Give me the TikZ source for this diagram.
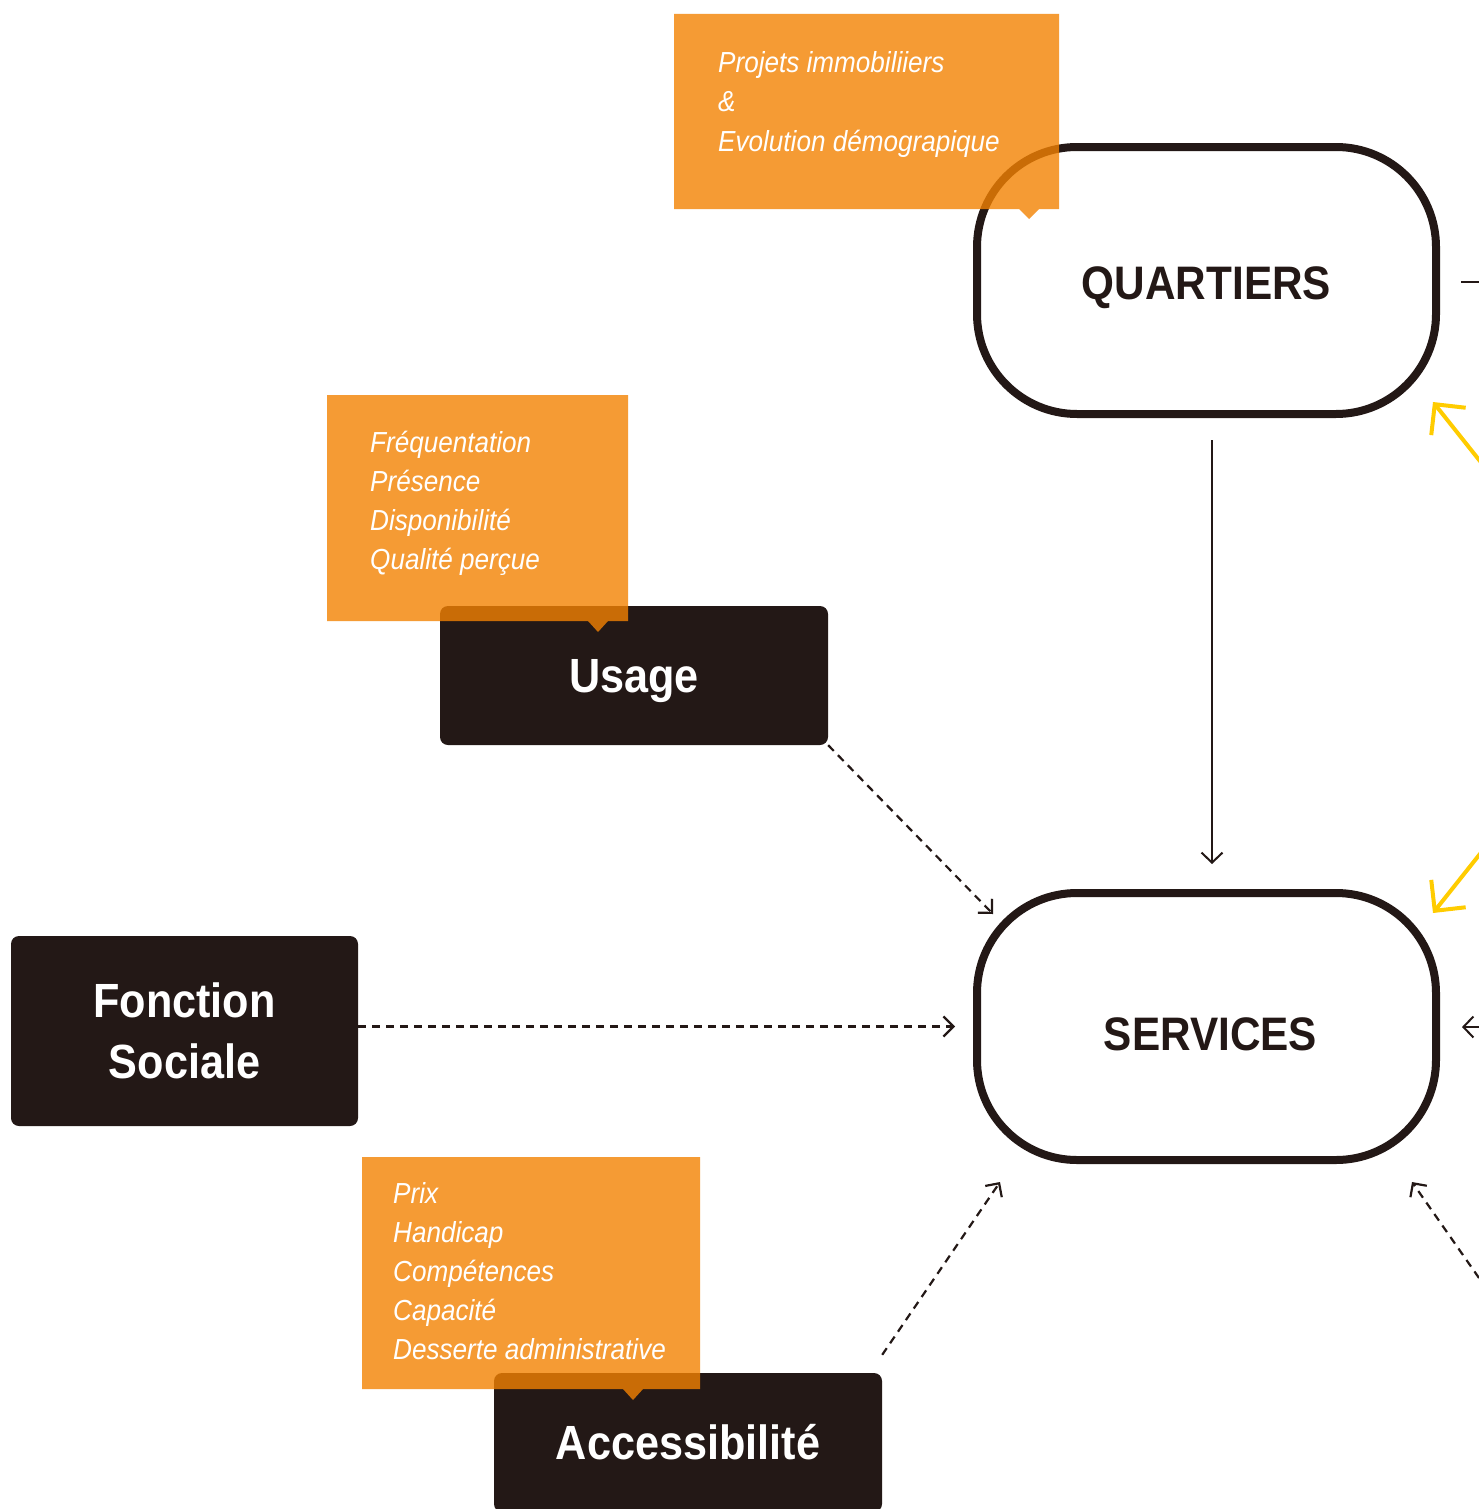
\documentclass[tikz,border=0pt]{standalone}
\usepackage{fontspec}
\setmainfont{Liberation Sans}
\newfontfamily\rfont[FakeStretch=0.9]{Liberation Sans}
\usetikzlibrary{arrows.meta}
\definecolor{dark}{HTML}{231816}
\definecolor{orng}{HTML}{F38202}
\definecolor{yel}{HTML}{FFCC00}
\tikzset{
  rbox/.style={draw=dark, line width=8pt, rounded corners=100pt, minimum width=459pt,
    minimum height=267pt, inner sep=0pt, text=dark, text depth=0pt,
    font=\rfont\bfseries\fontsize{47}{56}\selectfont},
  bbox/.style={fill=dark, rounded corners=8pt, inner sep=0pt, text=white, align=center,
    font=\rfont\bfseries\fontsize{48}{61}\selectfont},
  otext/.style={anchor=base west, inner sep=0pt, text=white, align=left,
    font=\rfont\itshape\fontsize{29}{39}\selectfont},
  ofill/.style={fill=orng, fill opacity=0.8},
  ghost/.style={inner sep=0pt, outer sep=0pt},
  solidarrow/.style={draw=dark, line width=2pt, -{Straight Barb[length=10pt,width=21pt]}},
  dasharrow/.style={draw=dark, line width=2.2pt, dash pattern=on 8pt off 6pt,
    -{Straight Barb[length=10pt,width=20pt]}},
  yelarrow/.style={draw=yel, line width=4pt, -{Straight Barb[length=22pt,width=44pt]}},
}
\begin{document}
\begin{tikzpicture}[x=1pt,y=-1pt]
\useasboundingbox[fill=white] (0,0) rectangle (1479,1509);
\begin{scope}
\clip (0,0) rectangle (1479,1509);
% main rounded boxes
\node[rbox, text height=37pt] (q) at (1206.5,280.5) {QUARTIERS};
\node[rbox, text height=47pt] (s) at (1206.5,1026.5) {\hspace*{8pt}SERVICES};
% black boxes
\node[bbox, minimum width=388pt, minimum height=139pt, text height=34pt, text depth=0pt] (u) at (634,675.5) {Usage};
\node[bbox, minimum width=347pt, minimum height=190pt] (f) at (184.5,1031) {Fonction\\Sociale};
\node[bbox, minimum width=388pt, minimum height=139pt, text height=34pt, text depth=0pt] (a) at (688,1442.5) {Accessibilité};
% off-canvas coordinates
\coordinate (rq) at (1479,282);
\coordinate (rs) at (1479,1027);
\coordinate (rb) at (1479,1278);
\coordinate (y1) at (1495,480);
\coordinate (y2) at (1495,835);
% connectors
\draw[solidarrow, shorten <=22pt, shorten >=25pt] ([xshift=5.5pt]q.south) -- ([xshift=5.5pt]s.north);
\draw[dasharrow] (u.south east) -- ([shift={(20,25)}]s.north west);
\draw[dasharrow, shorten >=18pt] (f.east |- s.west) -- (s.west);
\draw[dasharrow] ([yshift=18pt]a.north east) -- ([shift={(27,18)}]s.south west);
\draw[dasharrow] (rb) -- ([shift={(-28,18)}]s.south east);
\draw[draw=dark, line width=2pt, shorten >=21pt] (rq) -- (q.east |- rq);
\draw[solidarrow, shorten >=22pt] (rs) -- (s.east |- rs);
\draw[yelarrow] (y1) -- ([shift={(-7,-16)}]q.south east);
\draw[yelarrow] (y2) -- ([shift={(-7,24)}]s.north east);
\end{scope}
% orange boxes
\node[ghost, minimum width=385pt, minimum height=195pt] (ob1) at (866.5,111.5) {};
\fill[ofill] (ob1.north west) -- (ob1.north east) -- (ob1.south east) -- ++(-20,0) -- ++(-10,10) -- ++(-10,-10) -- (ob1.south west) -- cycle;
\node[otext] (ot1) at (718,151) {Projets immobiliiers\\\&\\Evolution démograpique};
\node[ghost, minimum width=301pt, minimum height=226pt] (ob2) at (477.5,508) {};
\fill[ofill] (ob2.north west) -- (ob2.north east) -- (ob2.south east) -- ++(-20,0) -- ++(-10,11) -- ++(-10,-11) -- (ob2.south west) -- cycle;
\node[otext] (ot2) at (370,569) {Fréquentation\\Présence\\Disponibilité\\Qualité perçue};
\node[ghost, minimum width=338pt, minimum height=232pt] (ob3) at (531,1273) {};
\fill[ofill] (ob3.north west) -- (ob3.north east) -- (ob3.south east) -- ++(-57,0) -- ++(-10,11) -- ++(-10,-11) -- (ob3.south west) -- cycle;
\node[otext] (ot3) at (393,1359) {Prix\\Handicap\\Compétences\\Capacité\\Desserte administrative};
\end{tikzpicture}
\end{document}
